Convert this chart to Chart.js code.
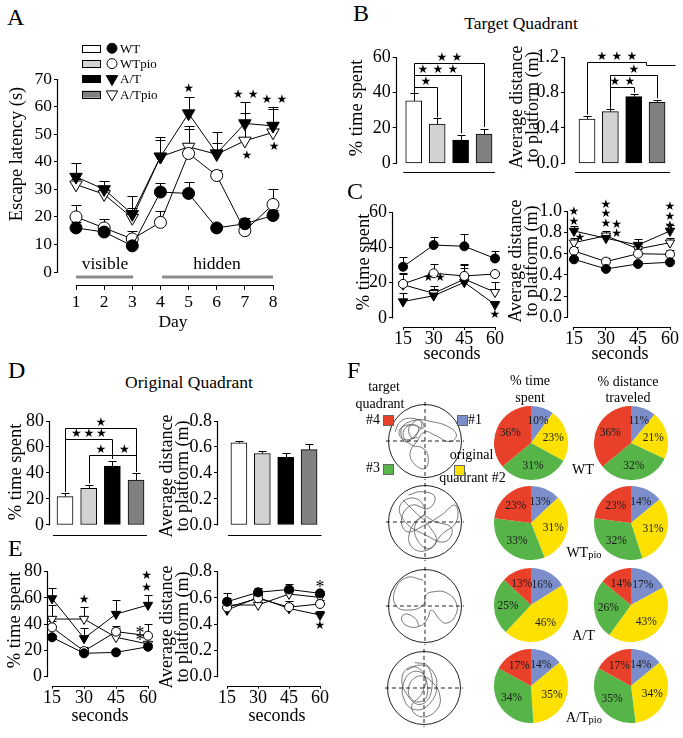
<!DOCTYPE html>
<html>
<head>
<meta charset="utf-8">
<title>Water maze: escape latency and probe trials</title>
<script src="https://cdn.jsdelivr.net/npm/chart.js@4.4.1/dist/chart.umd.min.js"></script>
<style>
  html, body { margin: 0; padding: 0; background: #fff; }
  body { position: relative; width: 683px; height: 738px; overflow: hidden;
         font-family: "Liberation Serif", "Times New Roman", serif; color: #000; }
  canvas { position: absolute; }
  .lbl { position: absolute; white-space: nowrap; line-height: 1; }
  .sq { position: absolute; width: 9px; height: 9px; border: 1px solid #666; }
</style>
</head>
<body>
<script>
// ---------- data ----------
const groups = ['WT', 'WTpio', 'A/T', 'A/Tpio'];
const days = [1, 2, 3, 4, 5, 6, 7, 8];
const seconds = [15, 30, 45, 60];
const barPos = [1, 2, 3, 4];

// A: escape latency (s)
const latWT = [16, 14.5, 9.5, 29, 28.5, 16, 17.5, 20.5];
const latWTpio = [20, 16, 12, 18, 43, 35, 15, 24.5];
const latAT = [34.5, 30, 21, 41.8, 57.5, 43, 53.9, 53];
const latATpio = [31.7, 28.2, 19.6, 41.8, 45.4, 42.7, 47.6, 50.6];
const latErrWT = [2.2, 1.5, 1.5, 3.3, 4.2, 1, 2, 2];
const latErrWTpio = [4.2, 3.2, 3, 4.2, 9, 2, 1.5, 5.6];
const latErrAT = [5.2, 3, 6.6, 7, 6, 7.8, 7.6, 6.3];
const latErrATpio = [2, 2, 3.5, 6, 7.5, 4, 10, 9.3];

// B: target quadrant
const targetTime = [35.4, 22.2, 13.2, 16.6];
const targetTimeErr = [4.2, 3.3, 2.8, 2.8];
const targetDist = [0.50, 0.585, 0.755, 0.69];
const targetDistErr = [0.03, 0.025, 0.035, 0.03];

// C: target quadrant by 15 s bins
const cTimeWT = [29, 41.3, 40.6, 33.7];
const cTimeWTpio = [19.3, 25.3, 23.8, 24.9];
const cTimeAT = [9.3, 12.6, 20.2, 7.6];
const cTimeATpio = [18.8, 14, 22, 14.6];
const cTimeErrWT = [5.4, 4.7, 7, 4.3];
const cTimeErrWTpio = [5.5, 5, 7, 1];
const cTimeErrAT = [5, 4, 8, 2];
const cTimeErrATpio = [6.5, 4, 8, 5.7];
const cDistWT = [0.548, 0.457, 0.504, 0.52];
const cDistWTpio = [0.627, 0.526, 0.601, 0.595];
const cDistAT = [0.816, 0.747, 0.683, 0.816];
const cDistATpio = [0.705, 0.771, 0.646, 0.705];
const cDistErrWT = [0.02, 0.02, 0.03, 0.02];
const cDistErrWTpio = [0.04, 0.03, 0.04, 0.04];
const cDistErrAT = [0.05, 0.05, 0.06, 0.06];
const cDistErrATpio = [0.04, 0.04, 0.05, 0.04];

// D: original quadrant
const origTime = [21.8, 28.2, 45.4, 34.6];
const origTimeErr = [2.6, 2.6, 4.1, 5.1];
const origDist = [0.633, 0.55, 0.52, 0.58];
const origDistErr = [0.015, 0.02, 0.03, 0.04];

// E: original quadrant by 15 s bins
const eTimeWT = [30, 17.8, 18.5, 22.8];
const eTimeWTpio = [37.6, 19.5, 34.3, 31.2];
const eTimeAT = [59.6, 29.2, 47.7, 54.6];
const eTimeATpio = [43.9, 43.9, 30, 24.9];
const eTimeErrWT = [2, 3, 2, 2];
const eTimeErrWTpio = [5, 3, 4, 8.8];
const eTimeErrAT = [8.1, 7.6, 10.7, 7.4];
const eTimeErrATpio = [10.7, 8.9, 7, 5];
const eDistWT = [0.571, 0.643, 0.665, 0.635];
const eDistWTpio = [0.528, 0.597, 0.53, 0.554];
const eDistAT = [0.508, 0.604, 0.52, 0.47];
const eDistATpio = [0.546, 0.546, 0.63, 0.604];
const eDistErrWT = [0.07, 0.03, 0.04, 0.02];
const eDistErrWTpio = [0.03, 0.03, 0.05, 0.03];
const eDistErrAT = [0.03, 0.03, 0.03, 0.03];
const eDistErrATpio = [0.05, 0.04, 0.05, 0.03];

// F: quadrant shares (%), order #1, #2, #3, #4
const quadrants = ['#1', '#2', '#3', '#4'];
const pieTimeWT = [10, 23, 31, 36];
const pieDistWT = [11, 21, 32, 36];
const pieTimeWTpio = [13, 31, 33, 23];
const pieDistWTpio = [14, 31, 32, 23];
const pieTimeAT = [16, 46, 25, 13];
const pieDistAT = [17, 43, 26, 14];
const pieTimeATpio = [14, 35, 34, 17];
const pieDistATpio = [14, 34, 35, 17];

// F: swim paths (pool radius = 1)
const pathWT = [[-0.82,0.25],[-0.68,0.53],[-0.36,0.62],[-0.09,0.48],[-0.27,0.16],[-0.55,-0.02],[-0.64,0.35],[-0.27,0.57],[0.18,0.53],[0.64,0.39],[0.86,0.16],[0.68,-0.02],[0.27,0.16],[0,0.25],[-0.23,-0.02],[-0.41,-0.34],[-0.27,-0.65],[0,-0.75],[0.09,-0.47],[-0.05,-0.2],[-0.36,-0.11],[-0.59,0.12],[-0.5,0.39],[-0.18,0.39],[-0.32,0.07],[-0.45,0.3],[-0.3,0.52],[-0.12,0.58],[-0.05,0.35],[-0.4,0.45],[-0.7,0.3],[-0.6,0.05],[-0.2,0.1]];
const pathWTpio = [[-0.45,0.74],[-0.09,0.83],[0.27,0.69],[0.09,0.37],[-0.36,0.46],[-0.64,0.1],[-0.5,-0.26],[-0.09,-0.13],[0.45,0.19],[0.82,0.46],[0.86,0.01],[0.45,-0.35],[0.14,-0.72],[-0.18,-0.54],[-0.27,-0.08],[0,0.28],[-0.27,0.65],[-0.68,0.46],[-0.55,0.01],[0,-0.35],[0.55,-0.54],[0.73,-0.17],[0.27,0.01],[-0.1,0.15],[-0.45,-0.45],[-0.15,-0.8],[0.3,-0.55],[0.1,-0.1],[-0.3,0.3],[-0.6,0.6]];
const pathAT = [[-0.05,0.71],[-0.5,0.78],[-0.82,0.44],[-0.79,0],[-0.41,-0.11],[-0.05,0.03],[0.03,0.3],[0.23,0.39],[0.59,0.36],[0.86,0.07],[0.82,-0.29],[0.59,-0.47],[0.41,-0.38],[0.18,-0.11],[0.05,-0.38],[-0.14,-0.55],[-0.45,-0.56],[-0.64,-0.38],[-0.55,-0.22],[-0.27,-0.34],[-0.16,-0.55]];
const pathATpio = [[-0.47,0.49],[-0.11,0.63],[0.21,0.49],[0.35,0.04],[0.16,-0.42],[-0.2,-0.6],[-0.52,-0.37],[-0.56,0.13],[-0.29,0.45],[0.03,0.31],[-0.06,-0.15],[-0.34,-0.51],[-0.11,-0.78],[0.3,-0.65],[0.44,-0.24],[0.16,0.22],[-0.2,0.31],[-0.43,-0.05],[-0.25,-0.37],[0.07,-0.24],[-0.02,0.4],[-0.34,0.58],[-0.6,0.3],[-0.45,-0.2],[-0.1,-0.45],[0.2,-0.1],[0.1,0.6],[-0.25,0.7]];

// ---------- styles ----------
const FONT = '"Liberation Serif", "Times New Roman", serif';
const barFill = ['#ffffff', '#d2d2d2', '#000000', '#808080'];
const quadColors = ['#7b8ecb', '#fbe000', '#57b449', '#e9402a'];
Chart.defaults.font.family = FONT;
Chart.defaults.color = '#000';

function addCanvas(l, t, r, b) {
  const c = document.createElement('canvas');
  c.width = Math.round(r - l); c.height = Math.round(b - t);
  c.style.left = l + 'px'; c.style.top = t + 'px';
  c.style.width = c.width + 'px'; c.style.height = c.height + 'px';
  document.body.appendChild(c);
  return c;
}

function txt(html, x, y, size, align, extra) {
  const d = document.createElement('div');
  d.className = 'lbl';
  d.innerHTML = html;
  const tx = align === 'l' ? '0' : align === 'r' ? '-100%' : '-50%';
  d.style.cssText = `left:${x}px;top:${y}px;font-size:${size}px;transform:translate(${tx},-50%) ${extra || ''}`;
  document.body.appendChild(d);
  return d;
}
function vtxt(lines, x, y, size) {
  const d = txt(lines.join('<br>'), x, y, size, 'c', 'rotate(-90deg)');
  d.style.lineHeight = '16px';
  d.style.textAlign = 'center';
}

function marker(ctx, kind, x, y, r) {
  const filled = kind === 0 || kind === 2;
  ctx.beginPath();
  if (kind < 2) ctx.arc(x, y, r, 0, Math.PI * 2);
  else {
    const R = r * 1.2;
    ctx.moveTo(x, y + R);
    ctx.lineTo(x - R * 0.866, y - R / 2);
    ctx.lineTo(x + R * 0.866, y - R / 2);
    ctx.closePath();
  }
  ctx.fillStyle = filled ? '#000' : '#fff';
  ctx.fill();
  ctx.strokeStyle = '#000'; ctx.lineWidth = 1;
  ctx.stroke();
}

function stars(ctx, x, y, n, gap, dir) {
  ctx.save();
  ctx.fillStyle = '#000';
  ctx.font = '12px "DejaVu Sans"';
  ctx.textAlign = 'center'; ctx.textBaseline = 'middle';
  for (let i = 0; i < n; i++) {
    const o = (i - (n - 1) / 2) * gap;
    ctx.fillText('\u2605', dir === 'v' ? x : x + o, dir === 'v' ? y + o : y);
  }
  ctx.restore();
}

// axes, error bars, brackets and stars drawn through the chart scales
function extras(spec) {
  return {
    id: 'extras',
    beforeDatasetsDraw(chart) {
      const ctx = chart.ctx, ys = chart.scales.y, xs = chart.scales.x;
      ctx.save();
      ctx.strokeStyle = '#000'; ctx.lineWidth = 1;
      (spec.err || []).forEach((errs, di) => {
        chart.data.datasets[di].data.forEach((p, i) => {
          if (!errs[i]) return;
          const x = Math.round(xs.getPixelForValue(p.x)) + 0.5;
          const y0 = ys.getPixelForValue(p.y);
          const y1 = Math.round(ys.getPixelForValue(p.y + errs[i])) + 0.5;
          ctx.beginPath();
          ctx.moveTo(x, y0); ctx.lineTo(x, y1);
          ctx.moveTo(x - spec.cap / 2, y1); ctx.lineTo(x + spec.cap / 2, y1);
          ctx.stroke();
        });
      });
      ctx.restore();
    },
    afterDatasetsDraw(chart) {
      const ctx = chart.ctx, a = chart.chartArea, ys = chart.scales.y, xs = chart.scales.x;
      const X = v => xs.getPixelForValue(v), Y = v => ys.getPixelForValue(v);
      ctx.save();
      ctx.strokeStyle = '#000'; ctx.lineWidth = 1.2;
      const ax = Math.round(a.left) - 0.5, ay = Math.round(a.bottom) + 0.5;
      ctx.beginPath();
      ctx.moveTo(ax, Y(0) + 0.5); ctx.lineTo(ax, Y(spec.y.max));
      ctx.moveTo(X(spec.x.line[0]), ay); ctx.lineTo(X(spec.x.line[1]), ay);
      ctx.stroke();

      (spec.segs || []).forEach(s => {
        ctx.strokeStyle = '#8c8c8c'; ctx.lineWidth = 3;
        ctx.beginPath(); ctx.moveTo(X(s.x1), Y(s.y)); ctx.lineTo(X(s.x2), Y(s.y)); ctx.stroke();
      });
      (spec.texts || []).forEach(t => {
        ctx.fillStyle = '#000';
        ctx.font = (t.size || 18) + 'px ' + FONT;
        ctx.textAlign = 'center'; ctx.textBaseline = 'middle';
        ctx.fillText(t.t, X(t.x), Y(t.y) + (t.dy || 0));
      });
      ctx.strokeStyle = '#000'; ctx.lineWidth = 1;
      (spec.brackets || []).forEach(b => {
        const x1 = Math.round(X(b.x1)) + 0.5, x2 = Math.round(X(b.x2)) + 0.5, y = Math.round(Y(b.y)) + 0.5;
        ctx.beginPath();
        if (b.d1 != null) { ctx.moveTo(x1, Y(b.d1)); ctx.lineTo(x1, y); } else ctx.moveTo(x1, y);
        ctx.lineTo(x2, y);
        if (b.d2 != null) ctx.lineTo(x2, Y(b.d2));
        ctx.stroke();
        if (b.n) stars(ctx, (x1 + x2) / 2, y - 6, b.n, spec.starGap || 14, 'h');
      });
      (spec.stars || []).forEach(s => stars(ctx, X(s.x), Y(s.y), s.n || 1, s.dir === 'v' ? (s.gap || 9.5) : (spec.starGap || 14), s.dir));

      if (spec.legend) {
        const L = spec.legend;
        ctx.font = '13px ' + FONT; ctx.textBaseline = 'middle'; ctx.textAlign = 'left';
        groups.forEach((g, i) => {
          const x = L.left - spec.box[0], y = L.top + i * L.dy - spec.box[1];
          ctx.fillStyle = barFill[i];
          ctx.fillRect(x, y - 3.5, 18, 7);
          ctx.strokeStyle = '#000'; ctx.lineWidth = 1;
          ctx.strokeRect(Math.round(x) + 0.5, Math.round(y - 3.5) + 0.5, 18, 7);
          marker(ctx, i, x + 30, y, i < 2 ? 5 : 5.5);
          ctx.fillStyle = '#000';
          ctx.fillText(g, x + 38, y + 1);
        });
      }
      ctx.restore();
    }
  };
}

function axisChart(box, area, spec) {
  const [bl, bt, br, bb] = box, [al, at, ar, ab] = area;
  spec.box = box;
  const canvas = addCanvas(bl, bt, br, bb);
  const tickFont = { family: FONT, size: spec.fs || 18, lineHeight: 1 };
  const xt = spec.x.ticks, yt = spec.y.ticks;
  return new Chart(canvas, {
    type: spec.type,
    data: { datasets: spec.datasets },
    options: {
      responsive: false, animation: false, events: [], devicePixelRatio: 1,
      layout: { autoPadding: false, padding: { top: at - bt, right: br - ar, left: 0, bottom: 0 } },
      plugins: { legend: { display: false }, tooltip: { enabled: false } },
      scales: {
        x: {
          type: 'linear', min: spec.x.min, max: spec.x.max, offset: false,
          afterFit: s => { s.height = bb - ab; },
          afterBuildTicks: xt ? (s => { s.ticks = xt.map(v => ({ value: v })); }) : undefined,
          border: { display: false },
          grid: { display: !!xt, offset: false, drawOnChartArea: false, color: '#000', tickLength: spec.x.tl || 4 },
          ticks: { display: !!xt, font: tickFont, color: '#000', padding: spec.x.pad || 0, maxRotation: 0, autoSkip: false }
        },
        y: {
          type: 'linear', min: spec.y.min, max: spec.y.max,
          afterFit: s => { s.width = al - bl; },
          afterBuildTicks: s => { s.ticks = yt.map(v => ({ value: v })); },
          border: { display: false },
          grid: { drawOnChartArea: false, color: '#000', tickLength: 4 },
          ticks: { font: tickFont, color: '#000', padding: 2, autoSkip: false,
                   callback: v => spec.y.dec ? Number(v).toFixed(spec.y.dec) : String(v) }
        }
      }
    },
    plugins: [extras(spec)]
  });
}

function line(xv, yv, kind, r) {
  const filled = kind === 0 || kind === 2, tri = kind >= 2;
  return {
    data: xv.map((x, i) => ({ x, y: yv[i] })),
    borderColor: '#000', borderWidth: 1, fill: false, tension: 0, clip: false,
    pointStyle: tri ? 'triangle' : 'circle', pointRotation: tri ? 180 : 0,
    pointRadius: tri ? r * 1.2 : r, pointBackgroundColor: filled ? '#000' : '#fff',
    pointBorderColor: '#000', pointBorderWidth: 1
  };
}
function bars(vals) {
  return [{
    data: barPos.map((x, i) => ({ x, y: vals[i] })),
    backgroundColor: barFill, borderColor: '#000', borderWidth: 1, borderSkipped: false,
    barThickness: 16, clip: false
  }];
}

// ---------- A ----------
axisChart([20, 35, 300, 312], [58, 79, 273, 285], {
  type: 'line', fs: 17.5,
  datasets: [line(days, latWT, 0, 6), line(days, latWTpio, 1, 6), line(days, latAT, 2, 6), line(days, latATpio, 3, 6)],
  err: [latErrWT, latErrWTpio, latErrAT, latErrATpio], cap: 10, starGap: 15,
  x: { min: 0.36, max: 8, ticks: days, line: [1, 8], tl: 5, pad: 3.5 },
  y: { min: -4.7, max: 70, ticks: [0, 10, 20, 30, 40, 50, 60, 70] },
  stars: [{ x: 5, y: 66.4, n: 1 }, { x: 7.03, y: 64.4, n: 2 }, { x: 8.05, y: 62.6, n: 2 },
          { x: 7.07, y: 42.3, n: 1 }, { x: 8.04, y: 45.4, n: 1 }],
  segs: [{ x1: 1, x2: 3.03, y: -1.8 }, { x1: 4.06, x2: 8, y: -1.8 }],
  texts: [{ x: 2.03, y: 2.6, t: 'visible', size: 17.5 }, { x: 6.01, y: 2.6, t: 'hidden', size: 17.5 }],
  legend: { left: 82, top: 48.3, dy: 15.3 }
});

// ---------- B ----------
axisChart([372, 40, 505, 185], [396.7, 57.3, 496, 171.7], {
  type: 'bar', datasets: bars(targetTime), err: [targetTimeErr], cap: 8, starGap: 15,
  x: { min: 0.274, max: 4.51, line: [0.557, 4.47] },
  y: { min: -4.75, max: 60, ticks: [0, 20, 40, 60] },
  brackets: [{ x1: 1, x2: 2, y: 43, d1: 40, d2: 26, n: 1 },
             { x1: 1, x2: 3, y: 50, d1: 40, d2: 17, n: 3 },
             { x1: 1, x2: 4, y: 56.9, d1: 40, d2: 20.5, n: 2 }]
});
axisChart([530, 40, 683, 185], [565, 57.3, 672, 171.7], {
  type: 'bar', datasets: bars(targetDist), err: [targetDistErr], cap: 8, starGap: 15,
  x: { min: 0.057, max: 4.64, line: [0.486, 4.56] },
  y: { min: -0.095, max: 1.2, ticks: [0, 0.4, 0.8, 1.2], dec: 1 },
  brackets: [{ x1: 1, x2: 3.53, y: 1.144, d1: 0.55, d2: 1.113, n: 3 },
             { x1: 3.53, x2: 4.75, y: 1.113 },
             { x1: 2, x2: 4, y: 1.0, d1: 0.62, d2: 0.735, n: 1 },
             { x1: 2, x2: 3, y: 0.86, d1: 0.62, d2: 0.80, n: 2 }]
});

// ---------- C ----------
axisChart([360, 190, 505, 350], [393, 212, 495, 327], {
  type: 'line',
  datasets: [line(seconds, cTimeWT, 0, 4.5), line(seconds, cTimeWTpio, 1, 4.5), line(seconds, cTimeAT, 2, 4.5), line(seconds, cTimeATpio, 3, 4.5)],
  err: [cTimeErrWT, cTimeErrWTpio, cTimeErrAT, cTimeErrATpio], cap: 8,
  x: { min: 10.1, max: 60, ticks: seconds, line: [15, 60], tl: 3, pad: 0 },
  y: { min: -5.1, max: 60, ticks: [0, 20, 40, 60] },
  stars: [{ x: 27.4, y: 22.5 }, { x: 33.2, y: 22.5 }, { x: 60, y: 1.9 }]
});
axisChart([530, 190, 683, 350], [568, 211.5, 670, 327], {
  type: 'line',
  datasets: [line(seconds, cDistWT, 0, 4.5), line(seconds, cDistWTpio, 1, 4.5), line(seconds, cDistAT, 2, 4.5), line(seconds, cDistATpio, 3, 4.5)],
  err: [cDistErrWT, cDistErrWTpio, cDistErrAT, cDistErrATpio], cap: 8,
  x: { min: 12.2, max: 60, ticks: seconds, line: [15, 60], tl: 3, pad: 0 },
  y: { min: -0.092, max: 1.0, ticks: [0, 0.2, 0.4, 0.6, 0.8, 1.0], dec: 1 },
  stars: [{ x: 15, y: 0.951, n: 2, dir: 'v' }, { x: 17.8, y: 0.747 }, { x: 30, y: 0.976, n: 3, dir: 'v' },
          { x: 35, y: 0.83, n: 2, dir: 'v' }, { x: 60, y: 0.951, n: 3, dir: 'v' }]
});

// ---------- D ----------
axisChart([15, 400, 160, 550], [50, 421, 150, 535], {
  type: 'bar', datasets: bars(origTime), err: [origTimeErr], cap: 8, starGap: 12.5,
  x: { min: 0.366, max: 4.59, line: [0.49, 4.46] },
  y: { min: -7.7, max: 80, ticks: [0, 20, 40, 60, 80] },
  brackets: [{ x1: 1, x2: 4, y: 74.4, d1: 25.6, d2: 41, n: 1 },
             { x1: 1, x2: 3, y: 66.2, d1: 25.6, d2: 51, n: 3 },
             { x1: 2, x2: 3, y: 53.8, d1: 32, d2: 51, n: 1 },
             { x1: 3, x2: 4, y: 53.8, d2: 41, n: 1 }]
});
axisChart([180, 400, 335, 550], [218, 421, 325, 535], {
  type: 'bar', datasets: bars(origDist), err: [origDistErr], cap: 8,
  x: { min: 0.106, max: 4.68, line: [0.532, 4.53] },
  y: { min: -0.077, max: 0.8, ticks: [0, 0.2, 0.4, 0.6, 0.8], dec: 1 }
});

// ---------- E ----------
axisChart([15, 558, 162, 710], [48, 571.7, 148, 685.7], {
  type: 'line',
  datasets: [line(seconds, eTimeWT, 0, 4.5), line(seconds, eTimeWTpio, 1, 4.5), line(seconds, eTimeAT, 2, 4.5), line(seconds, eTimeATpio, 3, 4.5)],
  err: [eTimeErrWT, eTimeErrWTpio, eTimeErrAT, eTimeErrATpio], cap: 8,
  x: { min: 13.1, max: 60, ticks: seconds, line: [15, 60], tl: 3, pad: 1 },
  y: { min: -6.9, max: 80, ticks: [0, 20, 40, 60, 80] },
  stars: [{ x: 30, y: 58.4 }, { x: 59.4, y: 72.2, n: 2, dir: 'v', gap: 11.7 }],
  texts: [{ x: 56.25, y: 35.6, t: '*', dy: 4 }, { x: 56.25, y: 30, t: '*', dy: 4 }]
});
axisChart([180, 558, 335, 710], [218, 571.7, 320, 685.7], {
  type: 'line',
  datasets: [line(seconds, eDistWT, 0, 4.5), line(seconds, eDistWTpio, 1, 4.5), line(seconds, eDistAT, 2, 4.5), line(seconds, eDistATpio, 3, 4.5)],
  err: [eDistErrWT, eDistErrWTpio, eDistErrAT, eDistErrATpio], cap: 8,
  x: { min: 10.6, max: 60, ticks: seconds, line: [15, 60], tl: 3, pad: 1 },
  y: { min: -0.069, max: 0.8, ticks: [0, 0.2, 0.4, 0.6, 0.8], dec: 1 },
  stars: [{ x: 60, y: 0.386 }],
  texts: [{ x: 60, y: 0.706, t: '*', dy: 4 }]
});

// ---------- F: pies ----------
const pieLabels = {
  id: 'pieLabels',
  afterDatasetsDraw(chart) {
    const ctx = chart.ctx, meta = chart.getDatasetMeta(0);
    ctx.save();
    ctx.font = '11.5px ' + FONT; ctx.fillStyle = '#1a1a1a';
    ctx.textAlign = 'center'; ctx.textBaseline = 'middle';
    meta.data.forEach((arc, i) => {
      const p = arc.getProps(['x', 'y', 'startAngle', 'endAngle', 'outerRadius']);
      const m = (p.startAngle + p.endAngle) / 2, r = p.outerRadius * 0.62;
      ctx.fillText(chart.data.datasets[0].data[i] + '%', p.x + Math.cos(m) * r, p.y + Math.sin(m) * r);
    });
    ctx.restore();
  }
};
function pie(cx, cy, values) {
  const r = 37;
  new Chart(addCanvas(cx - r, cy - r, cx + r, cy + r), {
    type: 'pie',
    data: { labels: quadrants, datasets: [{ data: values, backgroundColor: quadColors, borderWidth: 0, offset: 0, hoverOffset: 0 }] },
    options: { responsive: false, animation: false, events: [], devicePixelRatio: 1, layout: { padding: 0 },
               plugins: { legend: { display: false }, tooltip: { enabled: false } } },
    plugins: [pieLabels]
  });
}
pie(530.5, 443, pieTimeWT);    pie(630.5, 443, pieDistWT);
pie(530.5, 523, pieTimeWTpio); pie(630.5, 523, pieDistWTpio);
pie(530.5, 604.5, pieTimeAT);  pie(630.5, 604.5, pieDistAT);
pie(530.5, 686, pieTimeATpio); pie(630.5, 686, pieDistATpio);

// ---------- F: swim paths ----------
const pool = {
  id: 'pool',
  afterDatasetsDraw(chart) {
    const ctx = chart.ctx, xs = chart.scales.x, ys = chart.scales.y;
    const cx = xs.getPixelForValue(0), cy = ys.getPixelForValue(0), r = xs.getPixelForValue(1) - cx;
    ctx.save();
    ctx.strokeStyle = '#222'; ctx.lineWidth = 1;
    ctx.beginPath(); ctx.arc(cx, cy, r, 0, Math.PI * 2); ctx.stroke();
    ctx.setLineDash([4, 3]);
    ctx.beginPath();
    ctx.moveTo(xs.getPixelForValue(-1.07), cy); ctx.lineTo(xs.getPixelForValue(1.07), cy);
    ctx.moveTo(cx, ys.getPixelForValue(1.07)); ctx.lineTo(cx, ys.getPixelForValue(-1.07));
    ctx.stroke();
    ctx.restore();
  }
};
function swim(cx, cy, path) {
  const h = 45, lim = h / 36.5;
  new Chart(addCanvas(cx - h, cy - h, cx + h, cy + h), {
    type: 'scatter',
    data: { datasets: [{ data: path.map(([x, y]) => ({ x, y })), showLine: true, borderColor: '#555',
                         borderWidth: 0.8, pointRadius: 0, tension: 0.45, clip: false }] },
    options: { responsive: false, animation: false, events: [], devicePixelRatio: 1,
               layout: { autoPadding: false, padding: 0 },
               plugins: { legend: { display: false }, tooltip: { enabled: false } },
               scales: { x: { display: false, min: -lim, max: lim }, y: { display: false, min: -lim, max: lim } } },
    plugins: [pool]
  });
}
swim(425, 441, pathWT);
swim(425, 522, pathWTpio);
swim(425, 606, pathAT);
swim(424, 688, pathATpio);

// ---------- text ----------
[['A', 7, 16.5], ['B', 353, 12.5], ['C', 347, 190.5], ['D', 8, 369.5], ['E', 8, 547.5], ['F', 347, 369.5]]
  .forEach(([t, x, y]) => txt(t, x, y, 24, 'l'));
txt('Target Quadrant', 521, 24, 17.5);
txt('Original Quadrant', 189, 382.5, 17.5);

vtxt(['Escape latency (s)'], 16, 153.5, 18.5);
vtxt(['% time spent'], 356, 108, 18.5);
vtxt(['Average distance', 'to platform (m)'], 524, 107, 18);
vtxt(['% time spent'], 363, 262, 18.5);
vtxt(['Average distance', 'to platform (m)'], 523, 261, 18);
vtxt(['% time spent'], 14.5, 472, 18.5);
vtxt(['Average distance', 'to platform (m)'], 174, 476, 18);
vtxt(['% time spent'], 14, 620, 18.5);
vtxt(['Average distance', 'to platform (m)'], 174, 627, 18);

txt('Day', 173, 321.5, 17.5);
txt('seconds', 452, 352.5, 18);
txt('seconds', 620, 352.5, 18);
txt('seconds', 100, 714.5, 18);
txt('seconds', 277, 714.5, 18);

txt('target', 384, 387, 14);
txt('quadrant', 380, 404, 14);
txt('#4', 380, 420, 14, 'r');
txt('#1', 468, 420, 14, 'l');
txt('#3', 380, 468, 14, 'r');
txt('original', 471.5, 455, 14);
txt('quadrant #2', 472.5, 478, 14);
[[383, 415, quadColors[3]], [457, 415, quadColors[0]], [383, 463.5, quadColors[2]], [453.5, 464.5, quadColors[1]]]
  .forEach(([x, y, c]) => {
    const s = document.createElement('div');
    s.className = 'sq';
    s.style.cssText = `left:${x}px;top:${y}px;background:${c}`;
    document.body.appendChild(s);
  });

txt('% time', 530, 381, 14);
txt('spent', 530, 398, 14);
txt('% distance', 628, 382, 14);
txt('traveled', 628, 398, 14);
const sub = '<span style="font-size:10.5px;vertical-align:-1px">pio</span>';
txt('WT', 583, 470, 14);
txt('WT' + sub, 584, 553, 14);
txt('A/T', 583.5, 636, 14);
txt('A/T' + sub, 584, 718, 14);
</script>
</body>
</html>
